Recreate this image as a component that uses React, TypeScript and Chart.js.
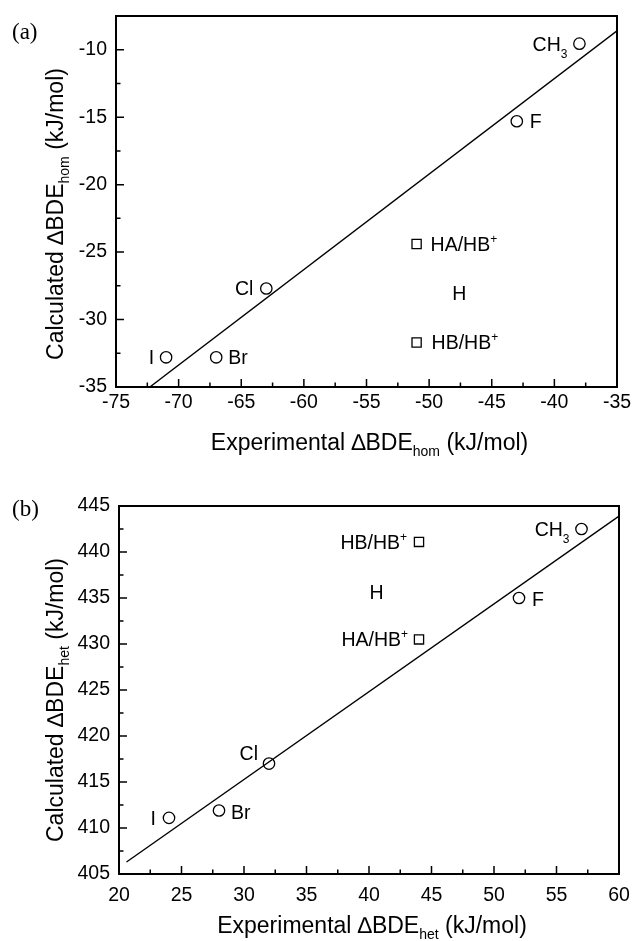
import React, { useEffect, useRef } from "react";
import { Chart, registerables } from "chart.js";

Chart.register(...registerables);

// ---------- Panel (a): homolytic ----------
const aSubstituents = ["I", "Br", "Cl", "F", "CH_3"];
const aExperimental = [-71, -67, -63, -43, -38];
const aCalculated = [-32.8, -32.8, -27.7, -15.3, -9.55];
const aPairs = ["HA/HB^+", "HB/HB^+"];
const aPairExperimental = [-51, -51];
const aPairCalculated = [-24.4, -31.7];
const aFitX = [-72.3, -35];
const aFitY = [-35, -8.6];
const aXTicks = [-75, -70, -65, -60, -55, -50, -45, -40, -35];
const aYTicks = [-35, -30, -25, -20, -15, -10];
const aGroupLabel = ["H"];
const aGroupX = [-47.6];
const aGroupY = [-28.0];

// ---------- Panel (b): heterolytic ----------
const bSubstituents = ["I", "Br", "Cl", "F", "CH_3"];
const bExperimental = [24, 28, 32, 52, 57];
const bCalculated = [411.1, 411.9, 417.0, 435.0, 442.5];
const bPairs = ["HB/HB^+", "HA/HB^+"];
const bPairExperimental = [44, 44];
const bPairCalculated = [441.1, 430.5];
const bFitX = [20.6, 60];
const bFitY = [406.3, 443.9];
const bXTicks = [20, 25, 30, 35, 40, 45, 50, 55, 60];
const bYTicks = [405, 410, 415, 420, 425, 430, 435, 440, 445];
const bGroupLabel = ["H"];
const bGroupX = [40.6];
const bGroupY = [435.7];

// ---------- styling / placement (pixel offsets of labels from their marker) ----------
const aSubPlace = [[-12, 0], [12, 0], [-13, 0], [13, 0], [-12, 0]];
const aPairPlace = [[14, 0], [15, 0]];
const bSubPlace = [[-13, 0], [12, 1], [-11, -11], [13, 1], [-12, 0]];
const bPairPlace = [[-12, 0], [-11, 0]];

const FONT = "'Liberation Sans', Arial, Helvetica, sans-serif";
const SERIF = "'Liberation Serif', 'Times New Roman', serif";

type Seg = { t: string; s: number; dy: number; f: string };

function hasFont(name: string) {
  const c = document.createElement("canvas").getContext("2d");
  if (!c) return false;
  const txt = "Experimental BDE mmmiiilll 0123";
  c.font = "40px monospace";
  const w1 = c.measureText(txt).width;
  c.font = `40px '${name}', monospace`;
  const w2 = c.measureText(txt).width;
  return Math.abs(w1 - w2) > 0.5;
}

// markup: _x or _{xyz} = subscript, ^x or ^{xyz} = superscript
function segs(label: string, size: number, family = FONT, subRatio = 0.63, subDrop = 0.37, supRise = 0.42): Seg[] {
  const out: Seg[] = [];
  const small = Math.round(size * subRatio);
  const re = /([_^])(\{[^}]*\}|.)/g;
  let last = 0;
  let m: RegExpExecArray | null;
  while ((m = re.exec(label))) {
    if (m.index > last) out.push({ t: label.slice(last, m.index), s: size, dy: 0, f: family });
    const body = m[2].startsWith("{") ? m[2].slice(1, -1) : m[2];
    out.push({ t: body, s: small, dy: m[1] === "_" ? size * subDrop : -size * supRise, f: family });
    last = m.index + m[0].length;
  }
  if (last < label.length) out.push({ t: label.slice(last), s: size, dy: 0, f: family });
  return out;
}

function drawRich(ctx: CanvasRenderingContext2D, list: Seg[], x: number, y: number, align: string) {
  const widths = list.map((g) => {
    ctx.font = `${g.s}px ${g.f}`;
    return ctx.measureText(g.t).width;
  });
  const total = widths.reduce((s, w) => s + w, 0);
  let cx = align === "left" ? x : align === "right" ? x - total : x - total / 2;
  ctx.textAlign = "left";
  ctx.textBaseline = "alphabetic";
  list.forEach((g, i) => {
    ctx.font = `${g.s}px ${g.f}`;
    ctx.fillText(g.t, cx, y + g.dy);
    cx += widths[i];
  });
}

type Panel = {
  letter: string;
  letterBaseline: number;
  xTitle: string;
  yTitle: string;
  xMin: number; xMax: number; yMin: number; yMax: number;
  xTicks: number[]; yTicks: number[];
  names: string[]; xs: number[]; ys: number[]; place: number[][];
  pairs: string[]; pxs: number[]; pys: number[]; pairPlace: number[][];
  group: string[]; gx: number[]; gy: number[];
  fitX: number[]; fitY: number[];
  height: number;
  pad: { top: number; right: number };
  yAxisWidth: number;
  xAxisHeight: number;
  xTickPad: number;
  xTitleBaseline: number;
  yTitleCenter: number;
};

const panelA: Panel = {
  letter: "(a)", letterBaseline: 39,
  xTitle: "Experimental \u2206BDE_{hom} (kJ/mol)",
  yTitle: "Calculated \u2206BDE_{hom} (kJ/mol)",
  xMin: -75, xMax: -35, yMin: -35, yMax: -7.5,
  xTicks: aXTicks, yTicks: aYTicks,
  names: aSubstituents, xs: aExperimental, ys: aCalculated, place: aSubPlace,
  pairs: aPairs, pxs: aPairExperimental, pys: aPairCalculated, pairPlace: aPairPlace,
  group: aGroupLabel, gx: aGroupX, gy: aGroupY,
  fitX: aFitX, fitY: aFitY,
  height: 470,
  pad: { top: 16, right: 16 },
  yAxisWidth: 116,
  xAxisHeight: 83,
  xTickPad: 4,
  xTitleBaseline: 450,
  yTitleCenter: 214,
};

const panelB: Panel = {
  letter: "(b)", letterBaseline: 46,
  xTitle: "Experimental \u2206BDE_{het} (kJ/mol)",
  yTitle: "Calculated \u2206BDE_{het} (kJ/mol)",
  xMin: 20, xMax: 60, yMin: 405, yMax: 445,
  xTicks: bXTicks, yTicks: bYTicks,
  names: bSubstituents, xs: bExperimental, ys: bCalculated, place: bSubPlace,
  pairs: bPairs, pxs: bPairExperimental, pys: bPairCalculated, pairPlace: bPairPlace,
  group: bGroupLabel, gx: bGroupX, gy: bGroupY,
  fitX: bFitX, fitY: bFitY,
  height: 471,
  pad: { top: 36, right: 14 },
  yAxisWidth: 119,
  xAxisHeight: 67,
  xTickPad: 10,
  xTitleBaseline: 463,
  yTitleCenter: 230,
};

function minors(arr: number[]) {
  return arr.slice(0, -1).map((v, i) => (v + arr[i + 1]) / 2);
}

function makeChart(canvas: HTMLCanvasElement, p: Panel) {
  const LABEL = 19.5;
  const narrow = hasFont("Liberation Sans Narrow");
  const TITLE_FAMILY = narrow ? "'Liberation Sans Narrow', 'Liberation Sans', Arial, sans-serif" : FONT;
  const T = narrow ? 28 : 23;
  const deco = {
    id: "deco",
    afterDraw(chart: any) {
      const ctx: CanvasRenderingContext2D = chart.ctx;
      const a = chart.chartArea;
      const xs = chart.scales.x;
      const ys = chart.scales.y;
      ctx.save();
      ctx.strokeStyle = "#000";
      ctx.fillStyle = "#000";
      // inward tick marks on bottom and left axes
      ctx.lineWidth = 1.5;
      ctx.beginPath();
      p.xTicks.forEach((v) => {
        const px = xs.getPixelForValue(v);
        ctx.moveTo(px, a.bottom);
        ctx.lineTo(px, a.bottom - 8);
      });
      minors(p.xTicks).forEach((v) => {
        const px = xs.getPixelForValue(v);
        ctx.moveTo(px, a.bottom);
        ctx.lineTo(px, a.bottom - 4.5);
      });
      p.yTicks.forEach((v) => {
        const py = ys.getPixelForValue(v);
        ctx.moveTo(a.left, py);
        ctx.lineTo(a.left + 8, py);
      });
      minors(p.yTicks).forEach((v) => {
        const py = ys.getPixelForValue(v);
        ctx.moveTo(a.left, py);
        ctx.lineTo(a.left + 4.5, py);
      });
      ctx.stroke();
      // frame
      ctx.lineWidth = 2;
      ctx.strokeRect(a.left, a.top, a.right - a.left, a.bottom - a.top);

      const cap = LABEL * 0.716;
      const put = (label: string, vx: number, vy: number, off: number[] | null) => {
        const px = xs.getPixelForValue(vx);
        const py = ys.getPixelForValue(vy);
        const dx = off ? off[0] : 0;
        const dy = off ? off[1] : 0;
        const align = dx < 0 ? "right" : dx > 0 ? "left" : "center";
        drawRich(ctx, segs(label, LABEL), px + dx, py + dy + cap / 2, align);
      };
      p.names.forEach((n, i) => put(n, p.xs[i], p.ys[i], p.place[i]));
      p.pairs.forEach((n, i) => put(n, p.pxs[i], p.pys[i], p.pairPlace[i]));
      p.group.forEach((n, i) => put(n, p.gx[i], p.gy[i], null));

      // axis titles
      drawRich(ctx, segs(p.xTitle, T, TITLE_FAMILY, 0.6, 0.28), (a.left + a.right) / 2 + 3, p.xTitleBaseline, "center");
      ctx.save();
      ctx.translate(63, p.yTitleCenter);
      ctx.rotate(-Math.PI / 2);
      drawRich(ctx, segs(p.yTitle, T, TITLE_FAMILY, 0.6, 0.28), 0, 0, "center");
      ctx.restore();

      // panel letter
      ctx.font = `23px ${SERIF}`;
      ctx.textAlign = "left";
      ctx.textBaseline = "alphabetic";
      ctx.fillText(p.letter, 12, p.letterBaseline);
      ctx.restore();
    },
  };

  const pts = (xs: number[], ys: number[]) => xs.map((x, i) => ({ x, y: ys[i] }));

  return new Chart(canvas, {
    type: "scatter",
    data: {
      datasets: [
        {
          label: "fit",
          data: pts(p.fitX, p.fitY),
          showLine: true,
          borderColor: "#000",
          borderWidth: 1.4,
          pointRadius: 0,
          fill: false,
        } as any,
        {
          label: "substituents",
          data: pts(p.xs, p.ys),
          pointStyle: "circle",
          pointRadius: 5.7,
          borderWidth: 1.3,
          borderColor: "#000",
          backgroundColor: "rgba(0,0,0,0)",
        },
        {
          label: "pairs",
          data: pts(p.pxs, p.pys),
          pointStyle: "rect",
          pointRadius: 6.5,
          borderWidth: 1.3,
          borderColor: "#000",
          backgroundColor: "rgba(0,0,0,0)",
        },
      ],
    },
    options: {
      responsive: false,
      animation: false,
      devicePixelRatio: 1,
      events: [],
      layout: { padding: { top: p.pad.top, right: p.pad.right, left: 0, bottom: 0 } },
      plugins: { legend: { display: false }, tooltip: { enabled: false }, title: { display: false } },
      scales: {
        x: {
          type: "linear",
          position: "bottom",
          min: p.xMin,
          max: p.xMax,
          grid: { display: false, drawTicks: false },
          border: { display: false },
          ticks: {
            color: "#000",
            font: { family: FONT, size: 19.5 },
            padding: p.xTickPad,
            maxRotation: 0,
            callback: (v: any) => String(v),
          },
          afterBuildTicks: (s: any) => {
            s.ticks = p.xTicks.map((v) => ({ value: v }));
          },
          afterFit: (s: any) => {
            s.height = p.xAxisHeight;
            s.paddingLeft = 0; s.paddingRight = 0; s.paddingTop = 0; s.paddingBottom = 0;
          },
        },
        y: {
          type: "linear",
          position: "left",
          min: p.yMin,
          max: p.yMax,
          grid: { display: false, drawTicks: false },
          border: { display: false },
          ticks: {
            color: "#000",
            font: { family: FONT, size: 19.5 },
            padding: 9,
            callback: (v: any) => String(v),
          },
          afterBuildTicks: (s: any) => {
            s.ticks = p.yTicks.map((v) => ({ value: v }));
          },
          afterFit: (s: any) => {
            s.width = p.yAxisWidth;
            s.paddingLeft = 0; s.paddingRight = 0; s.paddingTop = 0; s.paddingBottom = 0;
          },
        },
      },
    } as any,
    plugins: [deco],
  });
}

function PanelCanvas({ panel, top }: { panel: Panel; top: number }) {
  const ref = useRef<HTMLCanvasElement | null>(null);
  useEffect(() => {
    if (!ref.current) return;
    const chart = makeChart(ref.current, panel);
    return () => chart.destroy();
  }, [panel]);
  return (
    <canvas
      ref={ref}
      width={633}
      height={panel.height}
      style={{ position: "absolute", left: 0, top, width: 633, height: panel.height, display: "block" }}
    />
  );
}

export default function App() {
  return (
    <div style={{ position: "absolute", left: 0, top: 0, width: 633, height: 941, background: "#fff", overflow: "hidden" }}>
      <PanelCanvas panel={panelA} top={0} />
      <PanelCanvas panel={panelB} top={470} />
    </div>
  );
}
